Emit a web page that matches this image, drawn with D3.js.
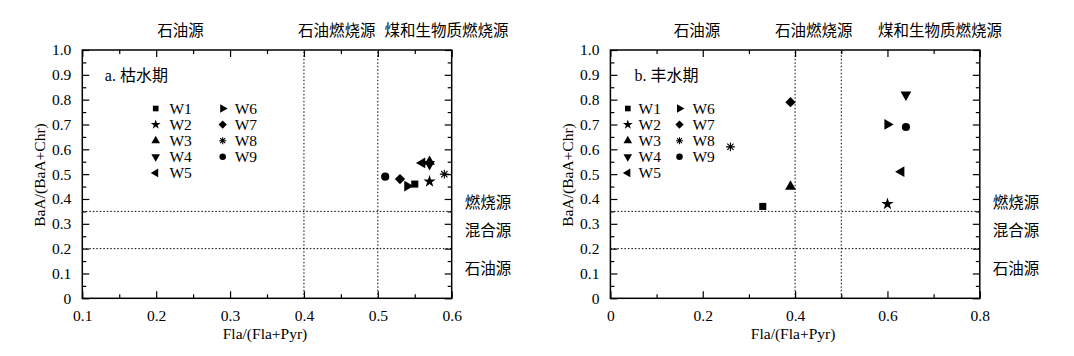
<!DOCTYPE html>
<html>
<head>
<meta charset="utf-8">
<script src="https://cdn.jsdelivr.net/npm/d3@7"></script>
<style>
  body { margin: 0; background: #fff; }
  svg { display: block; }
  text { font-family: 'Liberation Serif', 'Noto Sans CJK SC', serif; fill: #000; }
  .cjk { font-family: 'Noto Sans CJK SC', sans-serif; }
</style>
</head>
<body>
<div id="chart"></div>
<script>
// sites and their marker types
const sites = ['W1', 'W2', 'W3', 'W4', 'W5', 'W6', 'W7', 'W8', 'W9'];

// a. dry season (枯水期)
const dryFla = [0.55, 0.57, 0.57, 0.57, 0.56, 0.54, 0.53, 0.59, 0.51];
const dryBaA = [0.46, 0.47, 0.55, 0.54, 0.545, 0.452, 0.48, 0.50, 0.49];

// b. wet season (丰水期)
const wetFla = [0.33, 0.60, 0.39, 0.64, 0.63, 0.60, 0.39, 0.26, 0.64];
const wetBaA = [0.37, 0.38, 0.45, 0.82, 0.51, 0.70, 0.79, 0.61, 0.69];

// ticks
const yTicks = [0, 0.1, 0.2, 0.3, 0.4, 0.5, 0.6, 0.7, 0.8, 0.9, 1.0];
const yTickLabels = ['0', '0.1', '0.2', '0.3', '0.4', '0.5', '0.6', '0.7', '0.8', '0.9', '1.0'];
const yMinor = [0.05, 0.15, 0.25, 0.35, 0.45, 0.55, 0.65, 0.75, 0.85, 0.95];
const dryXTicks = [0.1, 0.2, 0.3, 0.4, 0.5, 0.6];
const dryXTickLabels = ['0.1', '0.2', '0.3', '0.4', '0.5', '0.6'];
const dryXMinor = [0.15, 0.25, 0.35, 0.45, 0.55];
const wetXTicks = [0, 0.2, 0.4, 0.6, 0.8];
const wetXTickLabels = ['0', '0.2', '0.4', '0.6', '0.8'];
const wetXMinor = [0.1, 0.3, 0.5, 0.7];

// threshold lines
const flaCuts = [0.4, 0.5];
const baaCuts = [0.2, 0.35];

// source labels
const topLabels = ['石油源', '石油燃烧源', '煤和生物质燃烧源'];
const sideLabels = ['燃烧源', '混合源', '石油源'];

const W = 1074, H = 356;
const plotTop = 50, plotBottom = 298.3;

const svg = d3.select('#chart').append('svg')
  .attr('width', W).attr('height', H);

// 8-arm asterisk, drawn as strokes
const asterisk = {
  draw(ctx, size) {
    const r = Math.sqrt(size) * 0.6;
    for (let i = 0; i < 4; i++) {
      const a = i * Math.PI / 4;
      ctx.moveTo(r * Math.cos(a), r * Math.sin(a));
      ctx.lineTo(-r * Math.cos(a), -r * Math.sin(a));
    }
  }
};
const diamond = d3.symbolDiamond2 || d3.symbolDiamond;

// marker spec per site: type, rotation, filled
const markers = [
  { type: d3.symbolSquare, rot: 0, size: 1.0 },
  { type: d3.symbolStar, rot: 0, size: 0.95 },
  { type: d3.symbolTriangle, rot: 0, size: 1.0 },
  { type: d3.symbolTriangle, rot: 180, size: 1.0 },
  { type: d3.symbolTriangle, rot: -90, size: 1.0 },
  { type: d3.symbolTriangle, rot: 90, size: 1.0 },
  { type: diamond, rot: 0, size: 1.35 },
  { type: asterisk, rot: 0, size: 1.1, stroke: true },
  { type: d3.symbolCircle, rot: 0, size: 1.05 }
];

function drawMarker(g, i, x, y, base) {
  const m = markers[i];
  g.append('path')
    .attr('d', d3.symbol().type(m.type).size(base * m.size)())
    .attr('transform', `translate(${x},${y}) rotate(${m.rot})`)
    .attr('fill', m.stroke ? 'none' : '#000')
    .attr('stroke', m.stroke ? '#000' : 'none')
    .attr('stroke-width', 1.1);
}

function drawPanel(p) {
  const x = d3.scaleLinear().domain(p.xDomain).range([p.left, p.right]);
  const y = d3.scaleLinear().domain([0, 1]).range([plotBottom, plotTop]);
  const g = svg.append('g');

  // threshold lines
  flaCuts.forEach(v => {
    g.append('line')
      .attr('x1', x(v)).attr('x2', x(v)).attr('y1', y(0)).attr('y2', y(1))
      .attr('stroke', '#000').attr('stroke-width', 1).attr('stroke-dasharray', '1.5,2');
  });
  baaCuts.forEach(v => {
    g.append('line')
      .attr('x1', x(p.xDomain[0])).attr('x2', x(p.xDomain[1])).attr('y1', y(v)).attr('y2', y(v))
      .attr('stroke', '#000').attr('stroke-width', 1).attr('stroke-dasharray', '1.5,2');
  });

  // axes with inward ticks on all sides
  const major = 7, minor = 4;
  g.append('g').attr('transform', `translate(0,${plotBottom})`)
    .call(d3.axisBottom(x).tickValues(p.xTicks).tickSize(-major)
      .tickFormat((d, i) => p.xLabels[i]).tickPadding(12))
    .call(a => a.select('.domain').remove())
    .call(a => a.selectAll('text').attr('font-size', 15.5).attr('font-family', "'Liberation Serif', serif"));
  g.append('g').attr('transform', `translate(0,${plotBottom})`)
    .call(d3.axisBottom(x).tickValues(p.xMinor).tickSize(-minor).tickFormat(''))
    .call(a => a.select('.domain').remove());
  g.append('g').attr('transform', `translate(0,${plotTop})`)
    .call(d3.axisTop(x).tickValues(p.xTicks).tickSize(-major).tickFormat(''))
    .call(a => a.select('.domain').remove());
  g.append('g').attr('transform', `translate(0,${plotTop})`)
    .call(d3.axisTop(x).tickValues(p.xMinor).tickSize(-minor).tickFormat(''))
    .call(a => a.select('.domain').remove());

  g.append('g').attr('transform', `translate(${p.left},0)`)
    .call(d3.axisLeft(y).tickValues(yTicks).tickSize(-major)
      .tickFormat((d, i) => yTickLabels[i]).tickPadding(11))
    .call(a => a.select('.domain').remove())
    .call(a => a.selectAll('text').attr('font-size', 15.5).attr('font-family', "'Liberation Serif', serif"));
  g.append('g').attr('transform', `translate(${p.left},0)`)
    .call(d3.axisLeft(y).tickValues(yMinor).tickSize(-minor).tickFormat(''))
    .call(a => a.select('.domain').remove());
  g.append('g').attr('transform', `translate(${p.right},0)`)
    .call(d3.axisRight(y).tickValues(yTicks).tickSize(-major).tickFormat(''))
    .call(a => a.select('.domain').remove());
  g.append('g').attr('transform', `translate(${p.right},0)`)
    .call(d3.axisRight(y).tickValues(yMinor).tickSize(-minor).tickFormat(''))
    .call(a => a.select('.domain').remove());

  g.selectAll('.tick line').attr('stroke', '#000').attr('stroke-width', 1.2);

  g.append('rect')
    .attr('x', p.left).attr('y', plotTop)
    .attr('width', p.right - p.left).attr('height', plotBottom - plotTop)
    .attr('fill', 'none').attr('stroke', '#000').attr('stroke-width', 1.5);

  // points
  p.fla.forEach((v, i) => drawMarker(g, i, x(v), y(p.baa[i]), 50));

  // legend
  sites.forEach((s, i) => {
    const col = i < 5 ? 0 : 1;
    const row = i < 5 ? i : i - 5;
    const mx = p.left + p.legendX[col];
    const my = 108.5 + row * 16.1;
    drawMarker(g, i, mx, my, 32);
    g.append('text').attr('x', mx + p.legendGap[col]).attr('y', my + 5.5)
      .attr('font-size', 15.5).text(s);
  });

  // panel title
  g.append('text').attr('x', p.left + p.titleDx).attr('y', 81)
    .attr('font-size', 16).text(p.title);

  // source labels
  topLabels.forEach((t, i) => {
    g.append('text').attr('class', 'cjk')
      .attr('x', x(p.topAt[i])).attr('y', 36)
      .attr('text-anchor', 'middle').attr('font-size', 15.5).text(t);
  });
  sideLabels.forEach((t, i) => {
    g.append('text').attr('class', 'cjk')
      .attr('x', p.right + 13).attr('y', y(p.sideAt[i]) + 5.5)
      .attr('font-size', 15.5).text(t);
  });

  // axis titles
  g.append('text')
    .attr('x', (p.left + p.right) / 2 - 2).attr('y', 339)
    .attr('text-anchor', 'middle').attr('font-size', 15.5).text('Fla/(Fla+Pyr)');
  g.append('text')
    .attr('transform', `translate(${p.left - 43},175) rotate(-90)`)
    .attr('text-anchor', 'middle').attr('dy', '0.35em')
    .attr('font-size', 15.5).text('BaA/(BaA+Chr)');
}

drawPanel({
  left: 82.3, right: 451.7, xDomain: [0.1, 0.6],
  xTicks: dryXTicks, xLabels: dryXTickLabels, xMinor: dryXMinor,
  fla: dryFla, baa: dryBaA,
  legendX: [73.4, 140.4], legendGap: [13.7, 12],
  title: 'a. 枯水期', titleDx: 22.5,
  topAt: [0.233, 0.4445, 0.593],
  sideAt: [0.385, 0.275, 0.12]
});

drawPanel({
  left: 610.4, right: 979.8, xDomain: [0, 0.8],
  xTicks: wetXTicks, xLabels: wetXTickLabels, xMinor: wetXMinor,
  fla: wetFla, baa: wetBaA,
  legendX: [17.4, 69.1], legendGap: [10.8, 12.9],
  title: 'b. 丰水期', titleDx: 24.2,
  topAt: [0.1876, 0.4405, 0.7136],
  sideAt: [0.385, 0.275, 0.12]
});
</script>
</body>
</html>
